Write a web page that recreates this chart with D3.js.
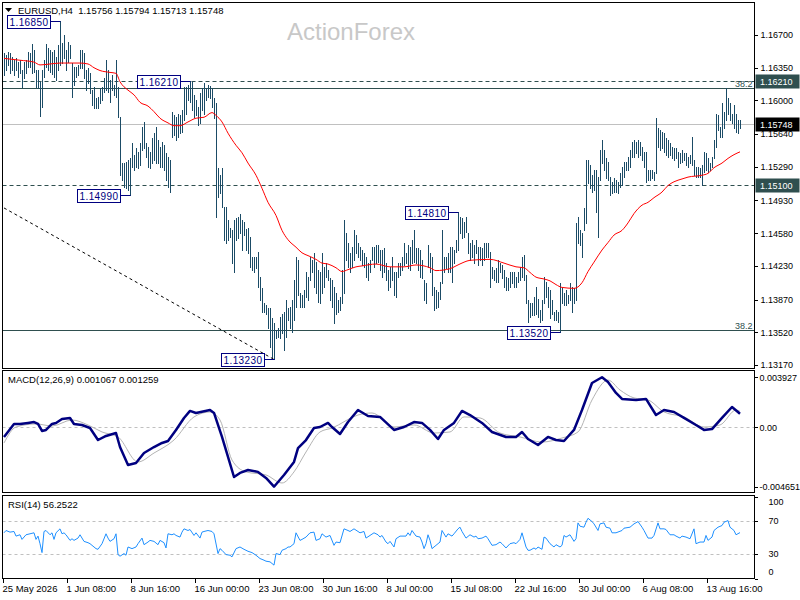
<!DOCTYPE html>
<meta charset="utf-8">
<script src="https://d3js.org/d3.v7.min.js"></script>
<style>
body { margin: 0; background: #fff; }
svg text { font-family: "Liberation Sans", Arial, sans-serif; }
.axis path.domain { display: none; }
.axis line { stroke: #000; shape-rendering: crispEdges; }
.axis text { font-size: 9px; fill: #000; }
.panel { fill: none; stroke: #000; stroke-width: 1; shape-rendering: crispEdges; }
.bar { stroke: #1b4b66; stroke-width: 1; shape-rendering: crispEdges; }
.peak-box { fill: #fff; stroke: #000080; stroke-width: 1; shape-rendering: crispEdges; }
.peak-text { font-size: 10px; fill: #000080; letter-spacing: 0.4px; }
.ind-label { font-size: 9.5px; fill: #000; white-space: pre; }
</style>
<body>
<div id="container"></div>
<script>
//------------------------1. DATA------------------------//
const symbolInfo = "EURUSD,H4";
const lastOHLC = [1.15756, 1.15794, 1.15713, 1.15748];

// time axis (one H4 bar per index)
const tickLabels = ["25 May 2026", "1 Jun 08:00", "8 Jun 16:00", "16 Jun 00:00", "23 Jun 08:00", "30 Jun 16:00",
  "8 Jul 00:00", "15 Jul 08:00", "22 Jul 16:00", "30 Jul 00:00", "6 Aug 08:00", "13 Aug 16:00"];
const tickBars = [0, 32, 64, 96, 128, 160, 192, 224, 256, 288, 320, 352];

const priceTicks = [1.16700, 1.16350, 1.16000, 1.15640, 1.15290, 1.14930, 1.14580, 1.14230, 1.13870, 1.13520, 1.13170];

const highs = [
  1.1651,1.1649,1.1652,1.1651,1.1646,1.1643,1.1645,1.1641,1.1643,1.1633, // 0
  1.1641,1.1643,1.1652,1.1651,1.1660,1.1654,1.1633,1.1633,1.1620,1.1633, // 10
  1.1643,1.1660,1.1656,1.1654,1.1652,1.1654,1.1646,1.1659,1.1685,1.1661, // 20
  1.1670,1.1654,1.1663,1.1659,1.1640,1.1636,1.1636,1.1638,1.1654,1.1654, // 30
  1.1651,1.1633,1.1635,1.1629,1.1611,1.1614,1.1603,1.1604,1.1613,1.1614, // 40
  1.1624,1.1643,1.1633,1.1622,1.1627,1.1616,1.1643,1.1614,1.1582,1.1533, // 50
  1.1533,1.1534,1.1536,1.1538,1.1554,1.1542,1.1549,1.1545,1.1554,1.1572, // 60
  1.1577,1.1554,1.1550,1.1545,1.1560,1.1565,1.1572,1.1558,1.1550,1.1556, // 70
  1.1552,1.1544,1.1540,1.1536,1.1588,1.1584,1.1582,1.1586,1.1584,1.1590, // 80
  1.1614,1.1614,1.1616,1.1621,1.1620,1.1606,1.1600,1.1593,1.1608,1.1613, // 90
  1.1619,1.1613,1.1616,1.1615,1.1613,1.1603,1.1597,1.1528,1.1520,1.1528, // 100
  1.1486,1.1486,1.1472,1.1464,1.1461,1.1472,1.1474,1.1475,1.1479,1.1472, // 110
  1.1470,1.1463,1.1464,1.1454,1.1433,1.1432,1.1433,1.1438,1.1411,1.1399, // 120
  1.1383,1.1381,1.1378,1.1378,1.1367,1.1362,1.1354,1.1357,1.1368,1.1372, // 130
  1.1374,1.1386,1.1378,1.1379,1.1386,1.1408,1.1433,1.1429,1.1394,1.1392, // 140
  1.1397,1.1416,1.1411,1.1433,1.1429,1.1437,1.1427,1.1419,1.1416,1.1437, // 150
  1.1422,1.1426,1.1419,1.1410,1.1408,1.1400,1.1394,1.1386,1.1390,1.1419, // 160
  1.1472,1.1458,1.1447,1.1437,1.1443,1.1461,1.1456,1.1447,1.1443,1.1440, // 170
  1.1437,1.1433,1.1426,1.1429,1.1443,1.1443,1.1445,1.1445,1.1440,1.1440, // 180
  1.1442,1.1426,1.1419,1.1422,1.1432,1.1416,1.1417,1.1426,1.1426,1.1433, // 190
  1.1448,1.1437,1.1445,1.1443,1.1451,1.1461,1.1442,1.1442,1.1440,1.1429, // 200
  1.1408,1.1405,1.1445,1.1437,1.1433,1.1400,1.1397,1.1395,1.1406,1.1461, // 210
  1.1433,1.1433,1.1437,1.1443,1.1443,1.1440,1.1451,1.1481,1.1475,1.1474, // 220
  1.1470,1.1475,1.1458,1.1447,1.1451,1.1445,1.1451,1.1443,1.1443,1.1442, // 230
  1.1447,1.1448,1.1447,1.1438,1.1422,1.1419,1.1421,1.1429,1.1426,1.1424, // 240
  1.1419,1.1411,1.1410,1.1417,1.1416,1.1417,1.1411,1.1416,1.1422,1.1433, // 250
  1.1435,1.1413,1.1386,1.1383,1.1383,1.1390,1.1400,1.1388,1.1376,1.1386, // 260
  1.1411,1.1406,1.1400,1.1397,1.1386,1.1374,1.1376,1.1374,1.1405,1.1399, // 270
  1.1394,1.1397,1.1392,1.1405,1.1400,1.1399,1.1469,1.1475,1.1461,1.1458, // 280
  1.1485,1.1536,1.1536,1.1531,1.1520,1.1526,1.1526,1.1518,1.1547,1.1558, // 290
  1.1547,1.1538,1.1534,1.1518,1.1513,1.1517,1.1515,1.1513,1.1522,1.1529, // 300
  1.1534,1.1534,1.1540,1.1547,1.1556,1.1558,1.1556,1.1558,1.1556,1.1550, // 310
  1.1545,1.1545,1.1526,1.1526,1.1526,1.1523,1.1581,1.1571,1.1568,1.1566, // 320
  1.1565,1.1560,1.1558,1.1554,1.1550,1.1549,1.1549,1.1545,1.1544,1.1547, // 330
  1.1544,1.1544,1.1540,1.1542,1.1561,1.1536,1.1529,1.1529,1.1528,1.1531, // 340
  1.1545,1.1544,1.1538,1.1533,1.1540,1.1558,1.1586,1.1584,1.1572,1.1597, // 350
  1.1588,1.1613,1.1603,1.1597,1.1586,1.1595,1.1586,1.1579,1.1579        // 360
];

const lows = [
  1.1627,1.1633,1.1638,1.1629,1.1633,1.1627,1.1633,1.1625,1.1629,1.1614, // 0
  1.1624,1.1629,1.1636,1.1636,1.1629,1.1630,1.1614,1.1613,1.1583,1.1593, // 10
  1.1625,1.1636,1.1633,1.1630,1.1628,1.1625,1.1622,1.1633,1.1638,1.1640, // 20
  1.1645,1.1633,1.1641,1.1645,1.1604,1.1616,1.1625,1.1627,1.1635,1.1635, // 30
  1.1624,1.1611,1.1619,1.1608,1.1595,1.1592,1.1592,1.1592,1.1597,1.1600, // 40
  1.1609,1.1611,1.1609,1.1598,1.1611,1.1606,1.1604,1.1582,1.1520,1.1515, // 50
  1.1507,1.1506,1.1504,1.1499,1.1529,1.1526,1.1529,1.1528,1.1531,1.1547, // 60
  1.1549,1.1540,1.1529,1.1528,1.1533,1.1536,1.1533,1.1533,1.1529,1.1529, // 70
  1.1526,1.1515,1.1507,1.1502,1.1561,1.1563,1.1558,1.1561,1.1565,1.1566, // 80
  1.1579,1.1586,1.1600,1.1598,1.1590,1.1582,1.1584,1.1574,1.1576,1.1590, // 90
  1.1586,1.1600,1.1604,1.1603,1.1593,1.1581,1.1475,1.1497,1.1501,1.1486, // 100
  1.1451,1.1448,1.1451,1.1454,1.1426,1.1416,1.1451,1.1453,1.1458,1.1440, // 110
  1.1456,1.1440,1.1437,1.1422,1.1419,1.1417,1.1421,1.1400,1.1386,1.1374, // 120
  1.1374,1.1372,1.1357,1.1336,1.1326,1.1323,1.1346,1.1347,1.1346,1.1351, // 130
  1.1333,1.1347,1.1365,1.1357,1.1352,1.1365,1.1379,1.1392,1.1379,1.1379, // 140
  1.1379,1.1390,1.1386,1.1408,1.1416,1.1400,1.1394,1.1384,1.1383,1.1394, // 150
  1.1400,1.1411,1.1408,1.1386,1.1379,1.1362,1.1372,1.1374,1.1376,1.1383, // 160
  1.1394,1.1429,1.1422,1.1416,1.1422,1.1429,1.1437,1.1433,1.1429,1.1424, // 170
  1.1422,1.1411,1.1408,1.1416,1.1429,1.1422,1.1426,1.1427,1.1419,1.1411, // 180
  1.1416,1.1408,1.1397,1.1400,1.1408,1.1392,1.1390,1.1411,1.1413,1.1419, // 190
  1.1424,1.1426,1.1421,1.1419,1.1426,1.1427,1.1426,1.1419,1.1411,1.1410, // 200
  1.1386,1.1383,1.1422,1.1416,1.1392,1.1376,1.1378,1.1379,1.1388,1.1405, // 210
  1.1417,1.1421,1.1417,1.1416,1.1406,1.1426,1.1438,1.1440,1.1458,1.1453, // 220
  1.1454,1.1459,1.1437,1.1429,1.1433,1.1426,1.1437,1.1424,1.1429,1.1424, // 230
  1.1429,1.1433,1.1432,1.1400,1.1410,1.1408,1.1406,1.1406,1.1416,1.1410, // 240
  1.1400,1.1397,1.1397,1.1400,1.1405,1.1400,1.1400,1.1406,1.1408,1.1411, // 250
  1.1408,1.1383,1.1363,1.1368,1.1370,1.1370,1.1372,1.1368,1.1363,1.1365, // 260
  1.1383,1.1390,1.1379,1.1367,1.1372,1.1365,1.1365,1.1363,1.1352,1.1383, // 270
  1.1381,1.1381,1.1383,1.1386,1.1374,1.1383,1.1386,1.1447,1.1445,1.1433, // 280
  1.1461,1.1469,1.1512,1.1506,1.1502,1.1504,1.1481,1.1454,1.1515,1.1533, // 290
  1.1526,1.1517,1.1515,1.1499,1.1501,1.1502,1.1502,1.1501,1.1507,1.1510, // 300
  1.1518,1.1526,1.1526,1.1529,1.1540,1.1540,1.1544,1.1540,1.1542,1.1536, // 310
  1.1529,1.1513,1.1515,1.1515,1.1517,1.1515,1.1522,1.1550,1.1547,1.1549, // 320
  1.1545,1.1542,1.1540,1.1542,1.1538,1.1536,1.1538,1.1529,1.1533,1.1534, // 330
  1.1536,1.1531,1.1529,1.1533,1.1531,1.1520,1.1518,1.1518,1.1518,1.1510, // 340
  1.1523,1.1526,1.1523,1.1526,1.1529,1.1538,1.1550,1.1568,1.1561,1.1561, // 350
  1.1571,1.1579,1.1586,1.1579,1.1576,1.1571,1.1566,1.1565,1.1571        // 360
];

// moving average, [bar, value]
const maPoints = [
  [0,1.1645],[8,1.1643],[15,1.1641],[18,1.1638],[23,1.1639],[28,1.1640],[38,1.1640],[42,1.1639],[45,1.1635],[48,1.1632],
  [53,1.1630],[56,1.1629],[58,1.1620],[62,1.1611],[65,1.1606],[68,1.1598],[72,1.1594],[75,1.1588],[78,1.1581],[82,1.1576],
  [85,1.1573],[88,1.1573],[92,1.1577],[96,1.1581],[100,1.1582],[104,1.1587],[106,1.1584],[109,1.1577],[112,1.1565],[116,1.1552],
  [119,1.1544],[122,1.1533],[126,1.1520],[129,1.1506],[132,1.1491],[136,1.1477],[139,1.1461],[142,1.1451],[146,1.1443],[149,1.1437],
  [152,1.1434],[156,1.1430],[159,1.1426],[162,1.1425],[166,1.1421],[169,1.1417],[172,1.1419],[176,1.1422],[179,1.1423],[186,1.1425],
  [193,1.1422],[200,1.1422],[206,1.1424],[213,1.1421],[216,1.1418],[223,1.1420],[226,1.1423],[230,1.1427],[233,1.1429],[243,1.1430],
  [250,1.1426],[256,1.1422],[260,1.1421],[263,1.1416],[266,1.1411],[270,1.1409],[273,1.1407],[276,1.1403],[279,1.1400],[285,1.1399],
  [289,1.1405],[292,1.1417],[295,1.1427],[299,1.1440],[302,1.1448],[305,1.1456],[309,1.1461],[312,1.1469],[315,1.1479],[319,1.1488],
  [322,1.1491],[325,1.1496],[329,1.1502],[332,1.1509],[335,1.1513],[339,1.1516],[342,1.1518],[349,1.1520],[352,1.1522],[355,1.1528],
  [359,1.1533],[362,1.1538],[365,1.1542],[368,1.1545]
];

// MACD(12,26,9) main line and signal, [bar, value]
const macdPoints = [
  [0,-0.00075],[5,0.00027],[8,0.00027],[12,0.00035],[15,0.00042],[17,0.00027],[19,-0.00028],[21,-0.00020],[24,0.00027],[26,0.00035],
  [29,0.00066],[33,0.00074],[35,0.00027],[39,0.00019],[43,-0.00005],[47,-0.00099],[51,-0.00067],[56,-0.00044],[58,-0.00154],[62,-0.00295],
  [66,-0.00279],[70,-0.00201],[75,-0.00154],[79,-0.00122],[82,-0.00107],[86,-0.00020],[90,0.00074],[93,0.00129],[96,0.00113],[103,0.00136],
  [105,0.00113],[109,-0.00075],[112,-0.00232],[115,-0.00389],[118,-0.00357],[122,-0.00334],[127,-0.00349],[131,-0.00396],[135,-0.00465],[140,-0.00373],
  [145,-0.00271],[147,-0.00162],[151,-0.00099],[155,-0.00005],[158,0.00003],[162,0.00035],[164,0.00003],[168,-0.00052],[172,0.00042],[177,0.00136],
  [182,0.00089],[188,0.00082],[195,-0.00020],[200,0.00003],[205,0.00042],[209,0.00035],[213,-0.00020],[217,-0.00091],[220,-0.00020],[225,0.00035],
  [229,0.00129],[233,0.00097],[239,0.00035],[244,-0.00036],[251,-0.00075],[256,-0.00075],[259,-0.00036],[262,-0.00091],[267,-0.00138],[272,-0.00075],
  [276,-0.00099],[280,-0.00107],[285,-0.00020],[289,0.00136],[294,0.00348],[299,0.00393],[302,0.00356],[306,0.00270],[309,0.00223],[316,0.00215],
  [321,0.00223],[326,0.00097],[330,0.00136],[335,0.00121],[340,0.00074],[346,0.00019],[350,-0.00020],[354,-0.00013],[359,0.00074],[364,0.00160],
  [368,0.00107]
];
const signalPoints = [
  [0,-0.00122],[6,0.00003],[16,0.00027],[24,0.00011],[34,0.00058],[42,0.00019],[49,-0.00036],[57,-0.00075],[67,-0.00271],[75,-0.00201],
  [85,-0.00099],[95,0.00082],[103,0.00121],[108,0.00058],[114,-0.00256],[121,-0.00349],[131,-0.00373],[139,-0.00436],[145,-0.00349],[151,-0.00193],
  [158,-0.00036],[164,-0.00005],[177,0.00097],[184,0.00113],[195,0.00003],[205,0.00019],[215,-0.00044],[223,-0.00036],[230,0.00082],[238,0.00074],
  [248,-0.00044],[258,-0.00075],[269,-0.00115],[279,-0.00083],[287,-0.00036],[294,0.00215],[302,0.00371],[308,0.00293],[315,0.00231],[322,0.00215],
  [330,0.00121],[340,0.00082],[350,0.00003],[358,0.00019],[366,0.00136],[368,0.00126]
];
const macdLast = [0.001067, 0.001259];
const macdScale = [-0.004651, 0.003927];

// RSI(14), [bar, value]
const rsiPoints = [
  [0,56],[1,58.8],[3,56.8],[5,57.6],[6,52],[8,53.6],[9,48],[11,53.6],[13,54.8],[15,56],[16,48],[17,52],[18,42.8],[19,32],[20,57.6],
  [21,58.8],[23,53.6],[24,56],[25,48],[26,56],[28,60.8],[29,54.8],[30,56],[31,53.6],[33,46.8],[34,48.8],[35,46.8],[37,49.6],[38,53.6],
  [40,45.6],[42,44],[43,42.8],[46,36.8],[47,36],[49,42.8],[51,54.8],[52,49.6],[53,45.6],[55,48.8],[56,54.8],[57,29.6],[58,27.6],
  [60,30.8],[61,28.8],[62,38.8],[64,36.8],[66,38.8],[67,42.8],[69,49.6],[70,41.6],[72,44.8],[73,46.8],[75,45.6],[77,41.6],[78,46.8],
  [80,44],[81,37.6],[82,54.8],[84,53.6],[85,54.8],[86,52.8],[88,50.8],[89,56.8],[90,60.8],[92,58.8],[93,60],[95,52.8],[96,56],
  [98,49.6],[99,56.8],[100,57.6],[102,58.8],[104,57.6],[105,54.8],[107,30.8],[108,36.8],[109,34.8],[111,29.6],[113,28.8],[114,26.8],
  [116,36.8],[118,38.8],[120,36],[122,33.6],[124,32],[126,28.8],[128,24.8],[130,22.8],[131,21.6],[133,20.8],[135,16.8],[136,30.8],
  [138,29.6],[139,34.8],[141,36.8],[142,38.8],[143,38.8],[145,42.8],[146,56],[148,46.8],[149,48],[151,50.8],[153,56],[155,56.8],
  [156,46.8],[158,48.8],[159,54.8],[161,50.8],[163,52.8],[165,40.8],[166,44.8],[168,44],[170,60.8],[172,58.8],[173,57.6],[175,60.8],
  [177,57.6],[178,56],[180,57.6],[181,49.6],[185,56],[187,53.6],[188,50.8],[189,52.8],[191,44.8],[192,42.8],[193,45.6],[195,38.8],
  [196,48.8],[198,52],[201,52],[202,56],[203,52.8],[204,58.8],[206,52],[208,50.8],[209,44.8],[210,36.8],[211,42.8],[212,53.6],
  [213,46.8],[214,36.8],[216,40.8],[218,44.8],[219,58.8],[221,50.8],[222,54.8],[224,52],[225,54.8],[227,60.8],[228,62.8],[229,57.6],
  [231,49.6],[233,53.6],[235,50.8],[236,52],[237,48.8],[239,49.6],[241,52],[242,48.8],[244,40.8],[246,41.6],[248,44.8],[249,42.8],
  [251,37.6],[253,42.8],[255,44],[256,42.8],[258,48],[259,56],[261,38.8],[262,34.8],[263,34.8],[265,37.6],[266,36],[267,38.8],
  [269,36],[270,50.8],[271,49.6],[273,42.8],[275,38.8],[276,41.6],[278,38.8],[279,40.8],[280,52.8],[281,50.8],[283,53.6],[285,45.6],
  [286,48.8],[287,68],[288,64],[290,62.8],[291,68.8],[292,73.6],[294,69.6],[295,66.8],[297,58.8],[298,66.8],[300,68],[301,62.8],
  [303,61.6],[304,56],[306,56],[309,58.8],[310,61.6],[313,62.8],[315,66.8],[317,69.6],[319,62.8],[320,58.8],[322,49.6],[324,49.6],
  [325,52.8],[327,68],[328,60.8],[330,60.8],[331,60],[333,53.6],[335,53.6],[336,52],[338,49.6],[339,52],[341,50.8],[343,48.8],
  [345,60.8],[346,42.8],[348,44.8],[350,44.8],[351,52.8],[352,46.8],[354,50.8],[355,58.8],[357,62.8],[359,64.8],[360,68.8],
  [362,70.8],[363,62.8],[365,58.8],[366,53.6],[368,56.25]
];
const rsiLast = 56.2522;
const rsiLevels = [70, 30];
const rsiTicks = [100, 70, 30, 0];

// swing high / low price labels
const peakBars = [28, 93, 63, 135, 227, 278];
const peakPrices = [1.16850, 1.16210, 1.14990, 1.13230, 1.14810, 1.13520];

// drawn objects
const dashedLevels = [1.16210, 1.15100];
const fibLevels = [1.16133, 1.13544];
const fibText = "38.2";
const trendLine = [[0, 1.1485], [135, 1.1323]];

//------------------------2. PREPARATION------------------------//
const width = 800;
const height = 600;
const left = 2.5, right = 754.5;
const mainTop = 2.5, mainBottom = 368.5;
const macdTop = 370.5, macdBottom = 492.5;
const rsiTop = 495.5, rsiBottom = 578.5;

const svg = d3.select("#container").append("svg")
    .attr("width", width)
    .attr("height", height);

const x = d3.scaleLinear().domain([0, highs.length - 1]).range([4, 740]);
const y = d3.scaleLinear().domain([1.1317, 1.1670]).range([365, 35]);
const yMacd = d3.scaleLinear().domain(macdScale).range([486.7, 377.3]);
const yRsi = d3.scaleLinear().domain([0, 100]).range([579, 496.5]);
const px = i => Math.round(x(i)) + 0.5;
const py = v => Math.round(y(v)) + 0.5;

const defs = svg.append("defs");
[["clipMain", mainTop, mainBottom], ["clipMacd", macdTop, macdBottom], ["clipRsi", rsiTop, rsiBottom]]
  .forEach(function(c) {
    defs.append("clipPath").attr("id", c[0]).append("rect")
        .attr("x", left + 0.5).attr("y", c[1] + 0.5)
        .attr("width", right - left - 1).attr("height", c[2] - c[1] - 1);
  });

//------------------------3. MAIN PANEL------------------------//
const main = svg.append("g").attr("clip-path", "url(#clipMain)");

// watermark
svg.append("text")
    .attr("x", 351).attr("y", 40)
    .attr("text-anchor", "middle")
    .style("font-size", "24px")
    .style("fill", "#c8c8c8")
    .text("ActionForex");

// current price line
main.append("line")
    .attr("x1", left).attr("x2", right)
    .attr("y1", py(lastOHLC[3])).attr("y2", py(lastOHLC[3]))
    .style("stroke", "#c0c0c0");

main.selectAll(".dash-level").data(dashedLevels).join("line")
    .attr("class", "dash-level")
    .attr("x1", left).attr("x2", right)
    .attr("y1", d => py(d)).attr("y2", d => py(d))
    .style("stroke", "#2f4f4f")
    .style("stroke-dasharray", "4,3");

main.selectAll(".fib-level").data(fibLevels).join("line")
    .attr("class", "fib-level")
    .attr("x1", left).attr("x2", right)
    .attr("y1", d => py(d)).attr("y2", d => py(d))
    .style("stroke", "#2f4f4f");

main.selectAll(".fib-text").data(fibLevels).join("text")
    .attr("class", "fib-text")
    .attr("x", right - 2).attr("y", d => py(d) - 2)
    .attr("text-anchor", "end")
    .style("font-size", "9px")
    .style("fill", "#2f4f4f")
    .text(fibText);

// trend line
main.append("line")
    .attr("x1", x(trendLine[0][0])).attr("y1", y(trendLine[0][1]))
    .attr("x2", x(trendLine[1][0])).attr("y2", y(trendLine[1][1]))
    .style("stroke", "#000")
    .style("stroke-dasharray", "3,3");

// bars
main.append("g").selectAll("line")
    .data(highs)
    .join("line")
    .attr("class", "bar")
    .attr("x1", (d, i) => px(i)).attr("x2", (d, i) => px(i))
    .attr("y1", d => Math.round(y(d)))
    .attr("y2", (d, i) => Math.round(y(lows[i])) + 1);

// moving average
const maLine = d3.line()
    .x(d => x(d[0]))
    .y(d => y(d[1]))
    .curve(d3.curveMonotoneX);

main.append("path")
    .datum(maPoints)
    .attr("d", maLine)
    .style("fill", "none")
    .style("stroke", "#ff0000")
    .style("stroke-width", 1);

// swing labels
const peaks = svg.append("g").selectAll("g")
    .data(peakBars)
    .join("g");

peaks.append("line")
    .attr("x1", d => px(d) - 10).attr("x2", d => px(d))
    .attr("y1", (d, i) => py(peakPrices[i])).attr("y2", (d, i) => py(peakPrices[i]))
    .style("stroke", "#000080");

peaks.append("rect")
    .attr("class", "peak-box")
    .attr("x", d => px(d) - 53).attr("width", 43)
    .attr("y", (d, i) => py(peakPrices[i]) - 6.5).attr("height", 13);

peaks.append("text")
    .attr("class", "peak-text")
    .attr("x", d => px(d) - 31.5)
    .attr("y", (d, i) => py(peakPrices[i]) + 4)
    .attr("text-anchor", "middle")
    .text((d, i) => peakPrices[i].toFixed(5));

// header
svg.append("path")
    .attr("d", "M5,8 L12,8 L8.5,12 Z")
    .style("fill", "#000");
svg.append("text")
    .attr("class", "ind-label")
    .attr("x", 18).attr("y", 14)
    .text(symbolInfo + "  " + lastOHLC.map(d => d.toFixed(5)).join(" "));

// right price axis
svg.append("g")
    .attr("class", "axis")
    .attr("transform", "translate(" + right + ",0)")
    .call(d3.axisRight(y).tickValues(priceTicks).tickSize(3).tickPadding(3).tickFormat(d3.format(".5f")));

// right side price tags
const tags = [[dashedLevels[0], "#2f4f4f"], [dashedLevels[1], "#2f4f4f"], [lastOHLC[3], "#000"]];
const tag = svg.append("g").selectAll("g").data(tags).join("g");
tag.append("rect")
    .attr("x", right + 1).attr("width", 44)
    .attr("y", d => py(d[0]) - 7).attr("height", 14)
    .style("fill", d => d[1]);
tag.append("text")
    .attr("x", right + 5.5).attr("y", d => py(d[0]) + 3.5)
    .style("font-size", "9px")
    .style("fill", "#fff")
    .text(d => d[0].toFixed(5));

//------------------------4. MACD PANEL------------------------//
const macd = svg.append("g").attr("clip-path", "url(#clipMacd)");

macd.append("line")
    .attr("x1", left).attr("x2", right)
    .attr("y1", Math.round(yMacd(0)) + 0.5).attr("y2", Math.round(yMacd(0)) + 0.5)
    .style("stroke", "#c0c0c0")
    .style("stroke-dasharray", "3,3");

macd.append("path")
    .datum(signalPoints)
    .attr("d", d3.line().x(d => x(d[0])).y(d => yMacd(d[1])).curve(d3.curveMonotoneX))
    .style("fill", "none")
    .style("stroke", "#b4b4b4")
    .style("stroke-width", 1);

macd.append("path")
    .datum(macdPoints)
    .attr("d", d3.line().x(d => x(d[0])).y(d => yMacd(d[1])))
    .style("fill", "none")
    .style("stroke", "#000080")
    .style("stroke-width", 2.5)
    .style("stroke-linejoin", "round");

svg.append("text")
    .attr("class", "ind-label")
    .attr("x", 8).attr("y", 382.5)
    .text("MACD(12,26,9) " + macdLast.map(d => d.toFixed(6)).join(" "));

svg.append("g")
    .attr("class", "axis")
    .attr("transform", "translate(" + right + ",0)")
    .call(d3.axisRight(yMacd).tickValues([macdScale[1], 0, macdScale[0]]).tickSize(3).tickPadding(2)
      .tickFormat(d => d === 0 ? "0.00" : d.toFixed(6)));

//------------------------5. RSI PANEL------------------------//
const rsi = svg.append("g").attr("clip-path", "url(#clipRsi)");

rsi.selectAll(".rsi-level").data(rsiLevels).join("line")
    .attr("class", "rsi-level")
    .attr("x1", left).attr("x2", right)
    .attr("y1", d => Math.round(yRsi(d)) + 0.5).attr("y2", d => Math.round(yRsi(d)) + 0.5)
    .style("stroke", "#c0c0c0")
    .style("stroke-dasharray", "3,3");

rsi.append("path")
    .datum(rsiPoints)
    .attr("d", d3.line().x(d => x(d[0])).y(d => yRsi(d[1])))
    .style("fill", "none")
    .style("stroke", "#1e90ff")
    .style("stroke-width", 1);

svg.append("text")
    .attr("class", "ind-label")
    .attr("x", 8).attr("y", 507.5)
    .text("RSI(14) " + rsiLast.toFixed(4));

// rsi scale: 100 and 0 are kept inside the panel
const rsiAxis = svg.append("g").attr("class", "axis");
rsiAxis.selectAll("line").data(rsiTicks).join("line")
    .attr("x1", right).attr("x2", right + 3)
    .attr("y1", d => Math.round(yRsi(d)) + 0.5).attr("y2", d => Math.round(yRsi(d)) + 0.5);
rsiAxis.selectAll("text").data(rsiTicks).join("text")
    .attr("x", right + 14)
    .attr("y", d => yRsi(d) + (d === 100 ? 8.5 : d === 0 ? -4 : 3))
    .text(d => d);

//------------------------6. TIME AXIS + FRAMES------------------------//
const xAxis = svg.append("g")
    .attr("class", "axis")
    .attr("transform", "translate(0," + rsiBottom + ")")
    .call(d3.axisBottom(x).tickValues(tickBars).tickSize(4).tickPadding(3)
      .tickFormat((d, i) => tickLabels[i]));
xAxis.selectAll(".tick").attr("transform", d => "translate(" + (px(d) - 1) + ",0)");
xAxis.selectAll("text").attr("text-anchor", "start").attr("dx", "-1").style("font-size", "9.5px");

[[mainTop, mainBottom], [macdTop, macdBottom], [rsiTop, rsiBottom]].forEach(function(p) {
  svg.append("rect")
      .attr("class", "panel")
      .attr("x", left).attr("y", p[0])
      .attr("width", right - left).attr("height", p[1] - p[0]);
});
</script>
</body>
